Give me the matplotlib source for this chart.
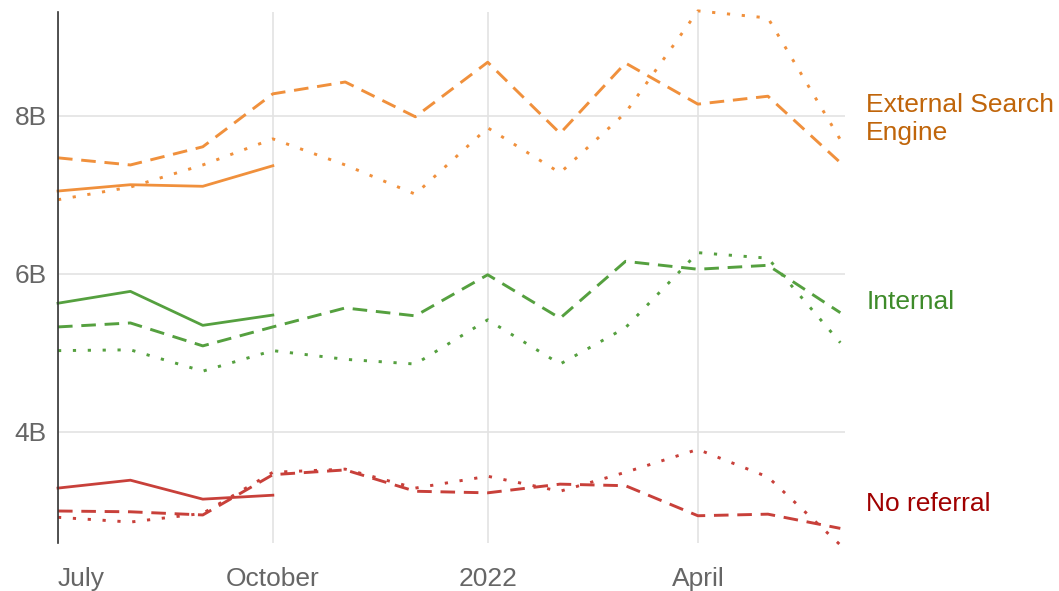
import matplotlib
matplotlib.use("Agg")
import matplotlib.pyplot as plt
import datetime as dt

months = ["2021-07-01", "2021-08-01", "2021-09-01", "2021-10-01", "2021-11-01", "2021-12-01",
          "2022-01-01", "2022-02-01", "2022-03-01", "2022-04-01", "2022-05-01", "2022-06-01"]

ext_solid = [7.05, 7.13, 7.11, 7.37]
ext_dashed = [7.47, 7.38, 7.61, 8.28, 8.43, 7.99, 8.68, 7.78, 8.67, 8.15, 8.25, 7.41]
ext_dotted = [6.94, 7.10, 7.38, 7.71, 7.38, 7.01, 7.85, 7.28, 8.04, 9.33, 9.24, 7.70]

int_solid = [5.63, 5.78, 5.35, 5.48]
int_dashed = [5.33, 5.38, 5.09, 5.33, 5.57, 5.47, 5.99, 5.44, 6.16, 6.06, 6.11, 5.51]
int_dotted = [5.03, 5.04, 4.77, 5.03, 4.92, 4.86, 5.42, 4.86, 5.32, 6.27, 6.20, 5.13]

nor_solid = [3.29, 3.39, 3.15, 3.20]
nor_dashed = [3.00, 2.99, 2.95, 3.46, 3.52, 3.25, 3.23, 3.34, 3.32, 2.94, 2.96, 2.78]
nor_dotted = [2.92, 2.86, 2.97, 3.49, 3.53, 3.29, 3.44, 3.25, 3.49, 3.78, 3.43, 2.57]

series_labels = ["External Search\nEngine", "Internal", "No referral"]
line_colors = ["#F0903C", "#55A03F", "#C8403A"]
label_colors = ["#C0650A", "#3E8B2A", "#A00000"]
label_y = [7.96, 5.64, 3.09]

ytick_vals = [4, 6, 8]
ytick_labels = ["4B", "6B", "8B"]
xtick_dates = ["2021-07-01", "2021-10-01", "2022-01-01", "2022-04-01"]
xtick_labels = ["July", "October", "2022", "April"]

plt.rcParams['font.family'] = ['Liberation Sans', 'DejaVu Sans']

W, H = 1059, 591
fig = plt.figure(figsize=(W / 100, H / 100), dpi=100)
ax = fig.add_axes([58 / W, 1 - 543 / H, (845 - 58) / W, (543 - 12) / H])

x = [dt.datetime.strptime(m, "%Y-%m-%d") for m in months]

groups = [(ext_solid, ext_dashed, ext_dotted),
          (int_solid, int_dashed, int_dotted),
          (nor_solid, nor_dashed, nor_dotted)]

for (s, d, o), c in zip(groups, line_colors):
    ax.plot(x, o, color=c, lw=2.1, dashes=(1.1, 4.0), dash_capstyle='butt', clip_on=False, zorder=3)
    ax.plot(x, d, color=c, lw=2.1, dashes=(5.0, 3.0), clip_on=False, zorder=3)
    ax.plot(x[:len(s)], s, color=c, lw=2.0, clip_on=False, zorder=4)

ax.set_ylim(2.595, 9.316)
ax.set_xlim(x[0], x[-1] + dt.timedelta(days=2))

ax.set_yticks(ytick_vals)
ax.set_yticklabels(ytick_labels)
xt = [dt.datetime.strptime(d, "%Y-%m-%d") for d in xtick_dates]
ax.set_xticks(xt)
ax.set_xticklabels(xtick_labels)
for i, lab in enumerate(ax.get_xticklabels()):
    if i == 0:
        lab.set_horizontalalignment('left')

ax.tick_params(axis='both', length=0, labelsize=19, labelcolor="#666666")
ax.tick_params(axis='x', pad=17)
ax.tick_params(axis='y', pad=8)
ax.grid(True, color="#E3E3E3", lw=1.2)
ax.set_axisbelow(True)
for sp in ["top", "right", "bottom"]:
    ax.spines[sp].set_visible(False)
ax.spines["left"].set_color("#333333")
ax.spines["left"].set_linewidth(1.2)
ax.spines["left"].set_zorder(5)

for lab, col, yv in zip(series_labels, label_colors, label_y):
    ax.text(1.027, yv, lab, transform=ax.get_yaxis_transform(), color=col,
            fontsize=19, ha='left', va='center', linespacing=1.22, clip_on=False)

fig.savefig("out.png", dpi=100)
